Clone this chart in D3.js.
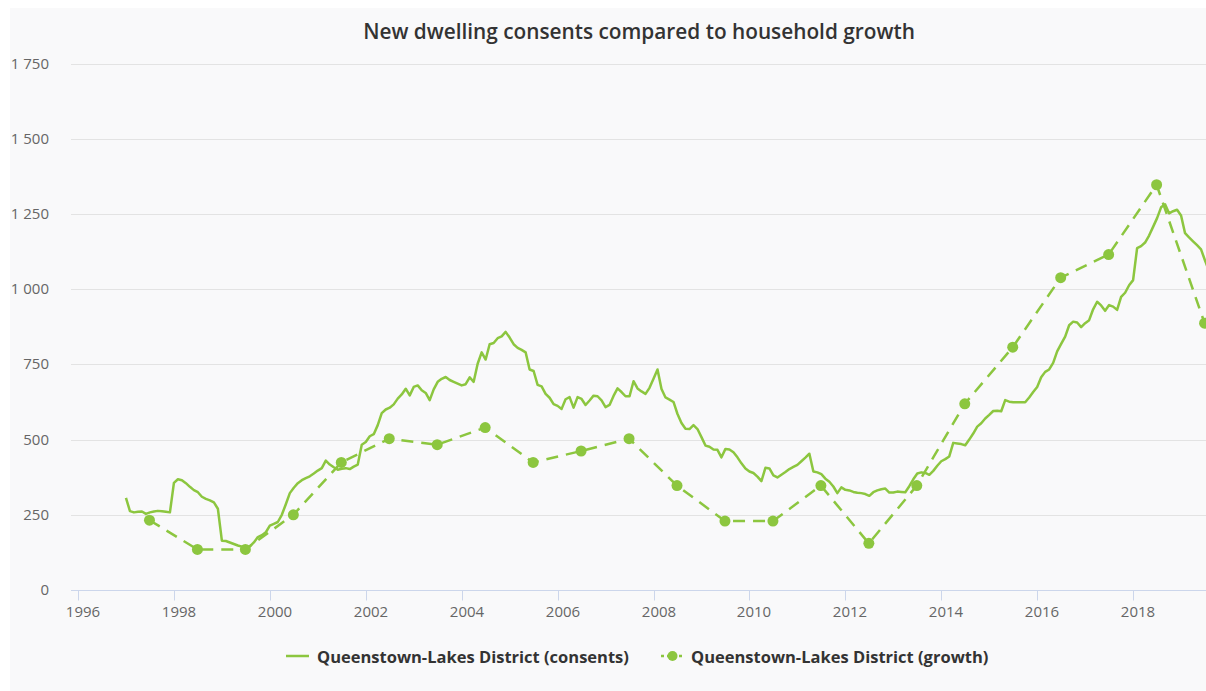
<!DOCTYPE html>
<html>
<head>
<meta charset="utf-8">
<script src="https://cdn.jsdelivr.net/npm/d3@7"></script>
<style>
  body { margin: 0; background: #fff; }
  svg { display: block; font-family: "Open Sans", sans-serif; }
</style>
</head>
<body>
<svg id="chart"></svg>
<script>
const width = 1206;
const height = 691;
const green = '#8cc63f';

// monthly consents, Jan 1997 onwards
const consentsStart = 1997;
const consents = [
  306, 262, 258, 260, 261, 253, 258, 261, 263, 262, 260, 258,
  356, 368, 365, 355, 343, 332, 325, 310, 303, 298, 291, 270,
  164, 163, 158, 153, 148, 144, 144, 145, 158, 176, 182, 192,
  214, 220, 226, 250, 285, 322, 340, 355, 365, 372, 378, 387,
  397, 405, 430, 417, 408, 400, 403, 405, 402, 410, 417, 483,
  492, 511, 518, 548, 588, 600, 606, 617, 636, 650, 669, 647,
  675, 680, 664, 655, 631, 667, 692, 702, 708, 698, 692, 686,
  680, 684, 707, 692, 752, 790, 766, 817, 821, 837, 843, 858,
  839, 817, 805, 798, 790, 733, 728, 682, 677, 652, 639, 618,
  612, 602, 634, 641, 606, 641, 635, 615, 630, 646, 644, 630,
  608, 615, 645, 670, 658, 644, 644, 694, 670, 660, 652, 672,
  702, 733, 668, 640, 633, 625, 585, 555, 536, 535, 548, 535,
  508, 480, 476, 467, 466, 441, 469, 467, 458, 441, 421, 404,
  394, 389, 377, 362, 406, 404, 381, 374, 383, 392, 402, 409,
  416, 428, 440, 453, 394, 391, 385, 370, 360, 344, 322, 341,
  333, 331, 326, 323, 322, 319, 313, 325, 331, 335, 337, 324,
  324, 327, 326, 325, 345, 368, 387, 391, 389, 383, 396, 413,
  428, 435, 444, 489, 487, 485, 481, 500, 520, 543, 554, 570,
  582, 595, 596, 594, 631, 626, 624, 624, 624, 624, 640, 658,
  675, 707, 725, 733, 755, 793, 818, 842, 880, 892, 889, 874,
  887, 897, 933, 958, 946, 928, 947, 942, 931, 974, 988, 1013,
  1030, 1136, 1143, 1155, 1178, 1207, 1236, 1272, 1282, 1252, 1259, 1264,
  1245, 1186, 1172, 1159, 1146, 1132, 1095, 1060
];

// household growth, one value per year (mid-year)
const growthYears = [1997, 1998, 1999, 2000, 2001, 2002, 2003, 2004, 2005, 2006, 2007, 2008,
                     2009, 2010, 2011, 2012, 2013, 2014, 2015, 2016, 2017, 2018, 2019];
const growth = [232, 135, 135, 250, 424, 503, 483, 540, 424, 462, 503, 347,
                229, 229, 347, 155, 347, 619, 807, 1038, 1115, 1347, 887];

const yTicks = [0, 250, 500, 750, 1000, 1250, 1500, 1750];
const xTicks = [1996, 1998, 2000, 2002, 2004, 2006, 2008, 2010, 2012, 2014, 2016, 2018];

const title = 'New dwelling consents compared to household growth';
const legendNames = ['Queenstown-Lakes District (consents)', 'Queenstown-Lakes District (growth)'];

const consentsData = consents.map((v, i) => ({year: consentsStart + i / 12, value: v}));
const growthData = growth.map((v, i) => ({year: growthYears[i] + 0.49, value: v}));

const svg = d3.select('#chart')
  .attr('width', width)
  .attr('height', height);

svg.append('defs').append('clipPath').attr('id', 'panel')
  .append('rect').attr('x', 10).attr('y', 8).attr('width', width - 10).attr('height', height - 8);

const root = svg.append('g').attr('clip-path', 'url(#panel)');

root.append('rect')
  .attr('x', 10).attr('y', 8)
  .attr('width', width - 10).attr('height', height - 8)
  .attr('fill', '#f9f9fa');

const x = d3.scaleLinear().domain([1995.854, 2019.52]).range([71, 1206]);
const y = d3.scaleLinear().domain([0, 1750]).range([590, 63.5]);

// grid
root.append('g')
  .selectAll('line')
  .data(yTicks.filter(d => d > 0))
  .enter()
  .append('line')
  .attr('x1', 71).attr('x2', width)
  .attr('y1', d => Math.round(y(d)) + 0.5)
  .attr('y2', d => Math.round(y(d)) + 0.5)
  .attr('stroke', '#e3e3e3')
  .attr('stroke-width', 1);

// y labels
const fmt = d => d >= 1000 ? d3.format(',')(d).replace(',', ' ') : String(d);
root.append('g')
  .selectAll('text')
  .data(yTicks)
  .enter()
  .append('text')
  .attr('x', 49)
  .attr('y', d => y(d) + 5)
  .attr('text-anchor', 'end')
  .attr('font-size', 15)
  .attr('fill', '#666')
  .text(fmt);

// x axis
const xAxis = root.append('g').attr('transform', 'translate(0, 590.5)');
xAxis.append('line')
  .attr('x1', 71).attr('x2', width)
  .attr('stroke', '#ccd6eb');
const xt = xAxis.selectAll('g.tick')
  .data(xTicks)
  .enter()
  .append('g')
  .attr('class', 'tick')
  .attr('transform', d => `translate(${Math.round(x(d)) + 0.5}, 0)`);
xt.append('line').attr('y2', 10).attr('stroke', '#ccd6eb');
xt.append('text')
  .attr('x', 4.5)
  .attr('y', 26)
  .attr('text-anchor', 'middle')
  .attr('font-size', 15)
  .attr('fill', '#666')
  .text(d => d);

// series
const line = d3.line().x(d => x(d.year)).y(d => y(d.value));

root.append('path')
  .datum(consentsData)
  .attr('d', line)
  .attr('fill', 'none')
  .attr('stroke', green)
  .attr('stroke-width', 2.5)
  .attr('stroke-linejoin', 'round');

root.append('path')
  .datum(growthData)
  .attr('d', line)
  .attr('fill', 'none')
  .attr('stroke', green)
  .attr('stroke-width', 2.5)
  .attr('stroke-dasharray', '12,8');

root.append('g')
  .selectAll('circle')
  .data(growthData)
  .enter()
  .append('circle')
  .attr('cx', d => x(d.year))
  .attr('cy', d => y(d.value))
  .attr('r', 5.5)
  .attr('fill', green);

// title
root.append('text')
  .attr('x', 639)
  .attr('y', 39)
  .attr('text-anchor', 'middle')
  .attr('font-size', 20.8)
  .attr('font-weight', 600)
  .attr('fill', '#333')
  .text(title);

// legend
const legend = root.append('g').attr('transform', 'translate(0, 656)');
const items = [
  {x: 286, name: legendNames[0], dot: false},
  {x: 661, name: legendNames[1], dot: true}
];
const li = legend.selectAll('g')
  .data(items)
  .enter()
  .append('g')
  .attr('transform', d => `translate(${d.x}, 0)`);
li.append('line')
  .attr('x1', 0).attr('x2', 23)
  .attr('stroke', green)
  .attr('stroke-width', 2.5)
  .attr('stroke-dasharray', d => d.dot ? '3,3' : null);
li.filter(d => d.dot).append('circle')
  .attr('cx', 11.5).attr('r', 5)
  .attr('fill', green);
li.append('text')
  .attr('x', d => d.dot ? 30 : 31)
  .attr('y', 6.5)
  .attr('font-size', 16.5)
  .attr('font-weight', 700)
  .attr('fill', '#333')
  .text(d => d.name);
</script>
</body>
</html>
